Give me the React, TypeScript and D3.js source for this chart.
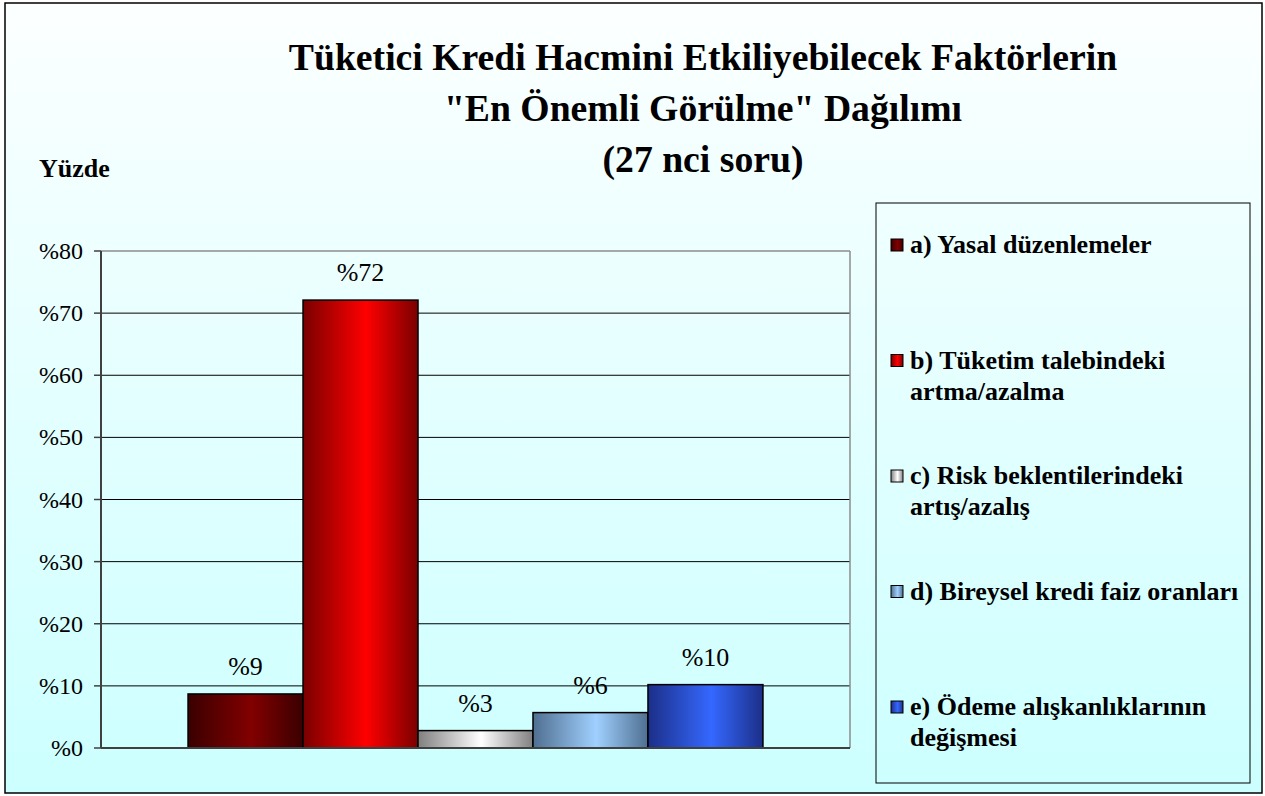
import React from 'react';
import * as d3 from 'd3';

const categories = ['a', 'b', 'c', 'd', 'e'];
const values = [8.7, 72.1, 2.8, 5.7, 10.2];
const valueLabels = ['%9', '%72', '%3', '%6', '%10'];
const legendLines = [
  ['a) Yasal düzenlemeler'],
  ['b) Tüketim talebindeki', 'artma/azalma'],
  ['c) Risk beklentilerindeki', 'artış/azalış'],
  ['d) Bireysel kredi faiz oranları'],
  ['e) Ödeme alışkanlıklarının', 'değişmesi'],
];
const yTicks = [0, 10, 20, 30, 40, 50, 60, 70, 80];
const titleLines = [
  'Tüketici Kredi Hacmini Etkiliyebilecek Faktörlerin',
  '"En Önemli Görülme" Dağılımı',
  '(27 nci soru)',
];

// edge / centre colours of each bar's shading
const barShades = [
  ['#3a0000', '#820000'],
  ['#7a0000', '#ff0000'],
  ['#808080', '#ffffff'],
  ['#4f6f90', '#a0d0ff'],
  ['#1c2f88', '#3568ff'],
];

const W = 1265;
const H = 796;
const plot = { left: 101, right: 850, top: 251, bottom: 748 };
const font = '"Liberation Serif", "Times New Roman", serif';

const App: React.FC = () => {
  const x = d3.scaleBand<string>()
    .domain(categories)
    .range([plot.left, plot.right])
    .paddingInner(0)
    .paddingOuter(0.757);

  const y = d3.scaleLinear().domain([0, 80]).range([plot.bottom, plot.top]);

  return (
    <svg width={W} height={H} style={{ position: 'absolute', left: 0, top: 0 }}>
      <defs>
        <linearGradient id="bg" x1="0" y1="0" x2="0" y2="1">
          <stop offset="0" stopColor="#fcffff" />
          <stop offset="1" stopColor="#ccffff" />
        </linearGradient>
        {barShades.map((s, i) => (
          <linearGradient key={i} id={`bar${i}`} x1="0" y1="0" x2="1" y2="0">
            <stop offset="0" stopColor={s[0]} />
            <stop offset="0.55" stopColor={s[1]} />
            <stop offset="1" stopColor={s[0]} />
          </linearGradient>
        ))}
      </defs>

      <rect x={5} y={3} width={1257} height={790} fill="url(#bg)" stroke="#000" strokeWidth={1.5} />

      {titleLines.map((t, i) => (
        <text key={i} x={703} y={70 + i * 51} textAnchor="middle"
          fontFamily={font} fontWeight="bold" fontSize={37.7} fill="#000">{t}</text>
      ))}

      <text x={39} y={177} fontFamily={font} fontWeight="bold" fontSize={26} fill="#000">Yüzde</text>

      {/* grid */}
      {yTicks.filter(t => t > 0 && t < 80).map(t => (
        <line key={t} x1={plot.left} x2={plot.right} y1={y(t)} y2={y(t)} stroke="#000" strokeWidth={1} />
      ))}
      <line x1={plot.left} x2={plot.right} y1={plot.top} y2={plot.top} stroke="#8c8c8c" strokeWidth={1.5} />
      <line x1={plot.right} x2={plot.right} y1={plot.top} y2={plot.bottom} stroke="#8c8c8c" strokeWidth={1.5} />

      {/* bars */}
      {categories.map((c, i) => (
        <g key={c}>
          <rect x={x(c)} y={y(values[i])} width={x.bandwidth()} height={y(0) - y(values[i])}
            fill={`url(#bar${i})`} stroke="#000" strokeWidth={1.5} />
          <text x={(x(c) as number) + x.bandwidth() / 2} y={y(values[i]) - 19} textAnchor="middle"
            fontFamily={font} fontSize={26} fill="#000">{valueLabels[i]}</text>
        </g>
      ))}

      {/* axes */}
      <line x1={plot.left} x2={plot.left} y1={plot.top} y2={plot.bottom} stroke="#404040" strokeWidth={2} />
      <line x1={plot.left} x2={plot.right} y1={plot.bottom} y2={plot.bottom} stroke="#404040" strokeWidth={2} />
      {yTicks.map(t => (
        <g key={t}>
          <line x1={plot.left - 7} x2={plot.left} y1={y(t)} y2={y(t)} stroke="#404040" strokeWidth={1.5} />
          <text x={83} y={y(t) + 8} textAnchor="end" fontFamily={font} fontSize={24} fill="#000">{`%${t}`}</text>
        </g>
      ))}

      {/* legend */}
      <rect x={876} y={203} width={374} height={580} fill="none" stroke="#000" strokeWidth={1} />
      {legendLines.map((lines, i) => {
        const base = 253 + i * 115.5;
        return (
          <g key={i}>
            <rect x={891} y={base - 14} width={12} height={12} fill={`url(#bar${i})`} stroke="#000" strokeWidth={1} />
            {lines.map((l, j) => (
              <text key={j} x={910} y={base + j * 31} fontFamily={font} fontWeight="bold" fontSize={26} fill="#000">{l}</text>
            ))}
          </g>
        );
      })}
    </svg>
  );
};

export default App;
